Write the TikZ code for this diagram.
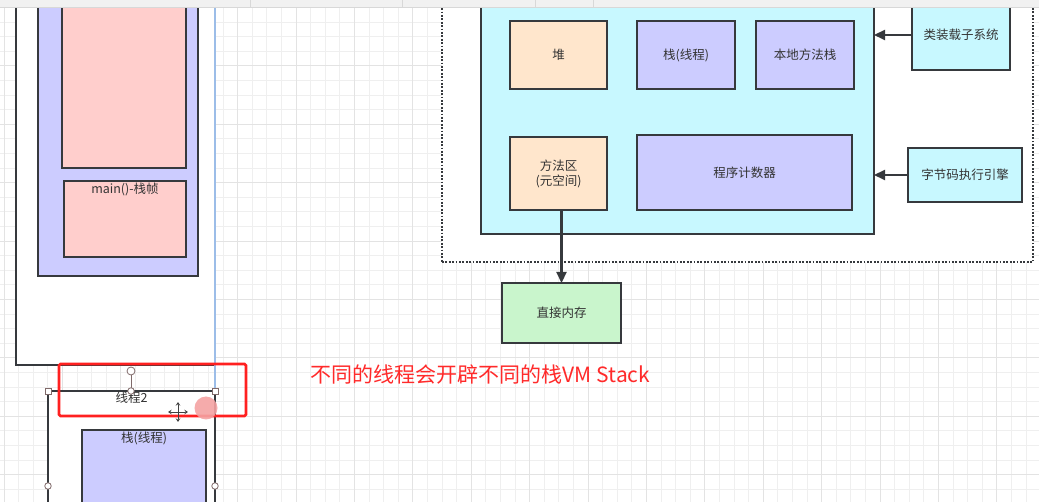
\documentclass[tikz,border=0pt]{standalone}
\usepackage{fontspec}
\setmainfont{Noto Sans CJK SC}
\usetikzlibrary{arrows.meta}
\definecolor{bd}{HTML}{36393D}
\definecolor{tx}{HTML}{333333}
\definecolor{pinkf}{HTML}{FFCECC}
\definecolor{lavf}{HTML}{CCCCFF}
\definecolor{cyanf}{HTML}{C8F8FF}
\definecolor{peachf}{HTML}{FFE6CC}
\definecolor{greenf}{HTML}{C9F5CC}
\definecolor{gridmin}{HTML}{EFEFEF}
\definecolor{gridmaj}{HTML}{E3E3E3}
\definecolor{guide}{HTML}{9CBDE8}
\definecolor{handle}{HTML}{806A6A}
\definecolor{redline}{HTML}{FF2020}
\definecolor{redtext}{HTML}{FF2A2A}
\definecolor{dotcircle}{HTML}{F4A2A2}
\definecolor{barf}{HTML}{F1F1F1}
\definecolor{barl}{HTML}{D8D8D8}
\tikzset{
  box/.style={draw=bd, line width=2pt, inner sep=0pt, outer sep=0pt},
  txt/.style={font=\fontsize{12.5}{15}\selectfont, text=tx},
  toplabel/.style={txt, anchor=north, inner sep=1pt},
  conn/.style={draw=bd, line width=2.2pt, -{Triangle[length=11pt,width=10pt]}},
  hsq/.style={draw=handle, fill=white, line width=0.8pt},
}
\begin{document}
\begin{tikzpicture}[x=1pt,y=-1pt]
\useasboundingbox (0,0) rectangle (1039,502);
\fill[white] (0,0) rectangle (1039,502);
% grid
\foreach \i in {0,...,71} \draw[gridmin, line width=0.8pt] ({4+14.6*\i},0) -- ({4+14.6*\i},502);
\foreach \j in {0,...,34} \draw[gridmin, line width=0.8pt] (0,{7.4+14.6*\j}) -- (1039,{7.4+14.6*\j});
\foreach \i in {0,...,17} \draw[gridmaj, line width=0.8pt] ({4+58.4*\i},0) -- ({4+58.4*\i},502);
\foreach \j in {0,...,8} \draw[gridmaj, line width=0.8pt] (0,{7.4+58.4*\j}) -- (1039,{7.4+58.4*\j});

% ---- left: thread 1
\node[box, fill=white, minimum width=199pt, minimum height=375pt] (outer1) at (115.5,177.5) {};
\node[box, fill=lavf, minimum width=160pt, minimum height=286pt] (stack1) at (118,133) {};
\node[box, fill=pinkf, minimum width=124pt, minimum height=178pt] (frame1) at (124,79) {};
\node[box, fill=pinkf, minimum width=122pt, minimum height=76pt] (mainf) at (125,219) {};
\node[toplabel] (mainl) at ([yshift=-1pt]mainf.north) {main()-栈帧};
% selection guide
\draw[guide, line width=1.4pt] (215,0) -- (215,502);

% ---- thread 2 (selected)
\node[draw=bd, line width=1.4pt, fill=white, minimum width=167pt, minimum height=129pt, inner sep=0pt] (thread2) at (131.5,455.5) {};
\node[toplabel] (t2l) at ([yshift=-0.5pt]thread2.north) {线程2};
\node[box, fill=lavf, minimum width=124pt, minimum height=90pt] (stack2) at (144,475) {};
\node[toplabel] (s2l) at ([yshift=-1pt]stack2.north) {栈(线程)};
% handles
\draw[handle, line width=0.9pt] (131,375.5) -- (131,391);
\node[hsq, circle, minimum size=8pt, inner sep=0pt] (rot) at (131,371) {};
\node[hsq, minimum size=6pt, inner sep=0pt] (hnw) at (48,391) {};
\node[hsq, minimum size=6pt, inner sep=0pt] (hne) at (215,391) {};
\node[hsq, circle, minimum size=6.5pt, inner sep=0pt] (hn) at (131,391) {};
\node[hsq, circle, minimum size=6.5pt, inner sep=0pt] (hw) at (48,486) {};
\node[hsq, circle, minimum size=6.5pt, inner sep=0pt] (he) at (215,486) {};
% red highlight
\draw[redline, line width=2.8pt, rounded corners=1.5pt] (59,364) rectangle (246,416);
% pointer dot and move cursor
\fill[dotcircle, opacity=0.9] (206,408) circle (11.5);
\draw[black!75, line width=0.7pt, {Stealth[length=3.5pt,width=4.5pt,open,fill=white]}-{Stealth[length=3.5pt,width=4.5pt,open,fill=white]}] (168,412) -- (188,412);
\draw[black!75, line width=0.7pt, {Stealth[length=3.5pt,width=4.5pt,open,fill=white]}-{Stealth[length=3.5pt,width=4.5pt,open,fill=white]}] (178,402) -- (178,422);
% red note
\node[font=\fontsize{21}{24}\selectfont, text=redtext] (note) at (480.5,375) {不同的线程会开辟不同的栈VM Stack};

% ---- right: runtime data area
\node[draw=bd, line width=2pt, dash pattern=on 1.8pt off 1.6pt, fill=white, minimum width=591pt, minimum height=272pt, inner sep=0pt] (jvm) at (737.5,126) {};
\node[box, fill=cyanf, minimum width=393pt, minimum height=244pt] (rda) at (677.5,112) {};
\node[box, fill=peachf, minimum width=97pt, minimum height=68pt, txt] (heap) at (558.5,55) {堆};
\node[box, fill=lavf, minimum width=98pt, minimum height=68pt, txt] (stk) at (686,55) {栈(线程)};
\node[box, fill=lavf, minimum width=98pt, minimum height=68pt, txt] (native) at (805,55) {本地方法栈};
\node[box, fill=peachf, minimum width=97pt, minimum height=73pt, txt, align=center] (method) at (558.5,173.5) {方法区\\(元空间)};
\node[box, fill=lavf, minimum width=215pt, minimum height=75pt, txt] (pc) at (744.5,172.5) {程序计数器};
\node[box, fill=cyanf, minimum width=98pt, minimum height=70pt, txt] (loader) at (961,35) {类装载子系统};
\node[box, fill=cyanf, minimum width=114pt, minimum height=54pt, txt] (engine) at (965,175) {字节码执行引擎};
\node[box, fill=greenf, minimum width=119pt, minimum height=60pt, txt] (direct) at (561.5,313) {直接内存};
% connectors
\draw[conn] (loader.west) -- (loader.west -| rda.east);
\draw[conn] (engine.west) -- (engine.west -| rda.east);
\draw[conn] (method.south -| direct.north) -- (direct.north);

% ---- top toolbar edge
\fill[barf] (0,0) rectangle (1039,7);
\draw[barl, line width=0.8pt] (0,7) -- (1039,7);
\foreach \x in {250,402,535,593} \draw[barl, line width=0.8pt] (\x,0) -- (\x,7);
\end{tikzpicture}
\end{document}
